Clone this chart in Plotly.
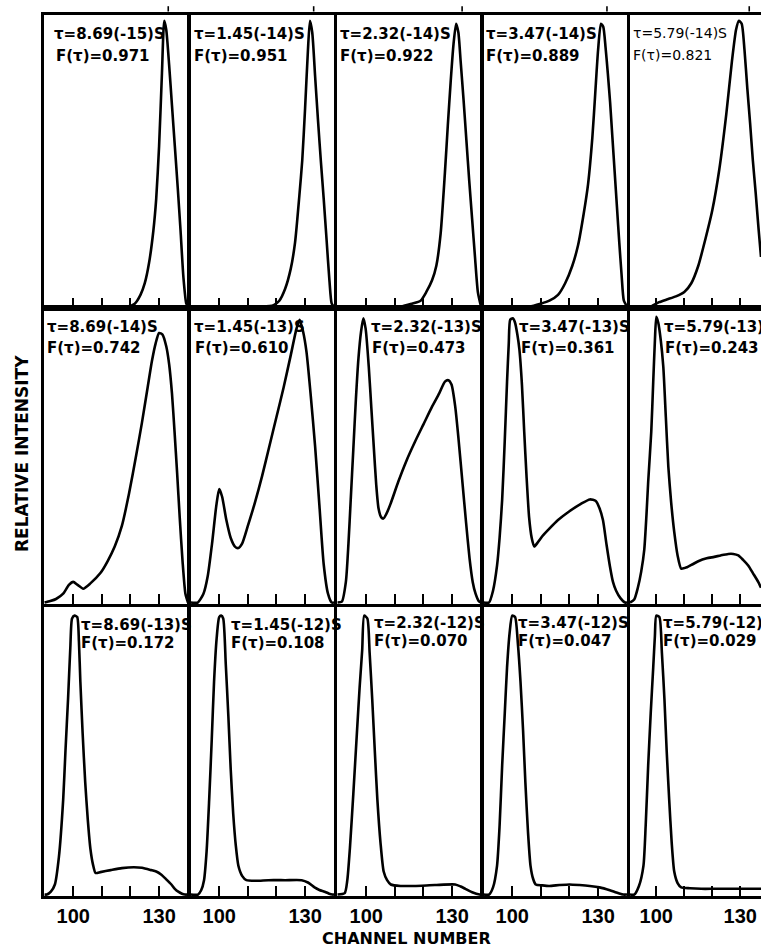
import plotly.graph_objects as go

# ---------------- data (channel number vs relative intensity, %) ----------------
tau_labels = ["τ=8.69(-15)S", "τ=1.45(-14)S", "τ=2.32(-14)S", "τ=3.47(-14)S", "τ=5.79(-14)S",
              "τ=8.69(-14)S", "τ=1.45(-13)S", "τ=2.32(-13)S", "τ=3.47(-13)S", "τ=5.79(-13)S",
              "τ=8.69(-13)S", "τ=1.45(-12)S", "τ=2.32(-12)S", "τ=3.47(-12)S", "τ=5.79(-12)S"]
f_labels = ["F(τ)=0.971", "F(τ)=0.951", "F(τ)=0.922", "F(τ)=0.889", "F(τ)=0.821",
            "F(τ)=0.742", "F(τ)=0.610", "F(τ)=0.473", "F(τ)=0.361", "F(τ)=0.243",
            "F(τ)=0.172", "F(τ)=0.108", "F(τ)=0.070", "F(τ)=0.047", "F(τ)=0.029"]

tick_vals = [100, 110, 120, 130]
tick_text = ["100", "", "", "130"]

# reference-channel marks drawn above the top-row frames
ref_channel = [133.2, 133.0, 133.5, 133.1, 133.2]

# top row
ch_a1 = [90, 119, 121.5, 123.5, 125, 126.5, 128, 129, 130, 131, 131.8, 132.5, 133.5, 134.5, 135.5, 136.5, 137.5, 138.5, 139.5, 140.1]
in_a1 = [0, 0, 1, 4, 8, 15, 26, 37, 55, 80, 98, 95, 83, 69, 55, 41, 26, 10, 1, 0]
ch_a2 = [90, 115, 119, 121, 123, 125, 126.5, 128, 129, 130, 131, 131.7, 132.5, 133.5, 134.5, 135.5, 136.5, 137.5, 138.5, 139.3, 140.1]
in_a2 = [0, 0, 0.5, 2, 6, 13, 22, 38, 50, 68, 88, 98, 94, 79, 64, 50, 37, 23, 9, 1, 0]
ch_a3 = [90, 112, 116, 119, 121, 123, 124.5, 126, 127.5, 128.5, 129.5, 130.5, 131.4, 132.2, 133, 134, 135, 136, 137, 138, 139, 140.1]
in_a3 = [0, 0, 1, 2, 5, 9, 14, 25, 46, 62, 77, 90, 97, 94, 84, 71, 57, 43, 30, 17, 5, 0]
ch_a4 = [90, 106, 110, 113, 116, 118.5, 121, 123, 125, 126.5, 128, 129, 130, 131, 131.8, 132.6, 133.4, 134.2, 135, 135.8, 136.6, 137.4, 138.2, 139, 140.1]
in_a4 = [0, 0, 1, 2, 4, 8, 14, 21, 32, 42, 58, 73, 88, 97, 96, 89, 80, 70, 58, 46, 34, 22, 11, 2, 0]
ch_a5 = [90.6, 98, 101, 104, 107, 110, 112.5, 115, 117.5, 120, 122.5, 125, 127, 128.5, 129.5, 130.5, 131.5, 132.5, 133.5, 134.5, 135.5, 136.5, 137.4]
in_a5 = [0, 0, 1.5, 2.5, 3.5, 5, 8, 14, 23, 33, 47, 66, 84, 95, 98, 97, 88, 75, 63, 50, 39, 27, 17]

# middle row
ch_b1 = [90, 92, 94, 96.5, 98.5, 100, 101.5, 103.5, 106, 109.5, 112, 114.5, 117, 119.5, 122, 124, 126, 127.5, 128.8, 130, 131.2, 132.5, 133.5, 134.5, 135.4, 136.3, 137.2, 138.2, 139.2, 140.1]
in_b1 = [0, 0.5, 1.2, 3, 6, 7, 6, 4.7, 6.5, 10, 14, 19, 26, 37, 50, 61, 73, 82, 88, 91.5, 91, 87, 81, 71, 58, 44, 29, 14, 3, 0]
ch_b2 = [90, 92.5, 94.5, 96, 97.5, 99, 100, 101, 102.5, 104, 105.5, 106.7, 108, 110, 112.5, 115, 117.5, 120, 122.5, 125, 127, 128.1, 129.3, 130.5, 132, 133.5, 135, 136.5, 138, 139.3, 140.1]
in_b2 = [0, 0, 3, 9, 20, 33, 38.5, 36, 28, 22, 19, 18.5, 20, 26, 34, 43, 53, 63, 73, 84, 93, 96, 92, 85, 70, 53, 33, 13, 3, 0, 0]
ch_b3 = [90, 91.5, 92.9, 93.8, 94.6, 95.5, 96.4, 97.3, 98.2, 99, 99.8, 100.9, 101.8, 102.7, 103.5, 104.3, 105.2, 106, 107, 108.5, 111.2, 114, 117, 120, 123, 125.5, 127.5, 128.7, 129.8, 131.1, 132.3, 133.6, 134.9, 136.1, 137.2, 138.2, 139.3, 140.1]
in_b3 = [0, 0.3, 7, 20, 35, 52, 69, 83, 92, 96.5, 93, 80, 66, 52, 40, 32, 29, 28.5, 30, 33.5, 41, 48, 54.5, 60.5, 66.5, 71, 75, 75.5, 74, 66.5, 55, 41, 27, 15, 7, 3, 0.5, 0]
ch_b4 = [90, 91.9, 93.3, 94.7, 95.6, 96.5, 97.4, 98.2, 98.8, 99.3, 100.2, 101, 101.8, 102.5, 103.4, 104.2, 105, 105.9, 106.8, 107.7, 109, 110.5, 112.9, 116, 120, 124, 127.1, 129.2, 130.5, 131.7, 132.9, 134.1, 135.2, 136.3, 137.8, 139.4, 140.1]
in_b4 = [0, 0, 4, 12.5, 22, 35, 55, 75, 88, 96, 96.5, 95, 91, 86, 74, 58, 43, 29, 22, 19, 20.5, 22.5, 25, 28, 31, 33.5, 35, 34.5, 32, 28, 20, 12.5, 7, 4, 1.5, 0, 0]
ch_b5 = [90.6, 92.1, 93.4, 94.6, 95.7, 96.5, 97.1, 98.2, 98.9, 99.5, 100, 100.7, 101.6, 102.5, 103.4, 104.3, 105.3, 106.4, 107.6, 108.9, 111, 113, 115, 118, 120.7, 123, 125.7, 127.5, 129.3, 131, 132.9, 134.5, 136.4, 137.4]
in_b5 = [0, 1, 5, 10.5, 18, 30, 41, 58, 75, 89, 97, 95, 89, 80, 63, 46, 34, 24, 16, 11.5, 12, 13, 14, 15, 15.5, 16, 16.5, 16.5, 16, 14.5, 12.5, 10, 7, 5]

# bottom row
ch_c1 = [90, 90.8, 92.2, 93.6, 95, 96.5, 97.3, 98.2, 99, 99.6, 100.5, 101.4, 102, 102.5, 103.3, 104.2, 105.1, 106, 106.9, 107.8, 109.5, 113.1, 117, 121.2, 124, 127.2, 129, 130.7, 132.5, 134.3, 135.5, 136.7, 138, 139, 140.1]
in_c1 = [0, 0, 1, 3.5, 13, 33, 50, 68, 86, 96, 97, 96.5, 88, 74, 56, 39, 26, 16, 10.5, 7.5, 7.8, 8.5, 9.2, 9.5, 9.3, 8.5, 8, 7, 5.3, 3.5, 2, 1, 0.3, 0, 0]
ch_c2 = [90, 92.6, 93.7, 94.7, 95.6, 96.5, 97.4, 98.2, 99.1, 100, 100.7, 101.4, 102.3, 103.2, 104, 104.9, 105.8, 106.7, 108, 109.5, 113, 117.2, 123, 128.8, 131, 133.3, 135, 136.8, 138.2, 139.5, 140.1]
in_c2 = [0, 0, 1.5, 5, 15, 33, 54, 74, 89, 96.5, 97, 96, 80, 62, 44, 28, 17, 10, 6.5, 5, 4.8, 5, 5, 5, 4.2, 2.5, 1.6, 1, 0.4, 0, 0]
ch_c3 = [90, 92.5, 93.4, 94.3, 95.5, 96.8, 97.7, 98.6, 99.3, 100.4, 101.2, 102.1, 103, 103.9, 105, 106.1, 107.3, 108.6, 112, 116.8, 124, 131.1, 133, 134.6, 137, 139.6, 140.1]
in_c3 = [0, 0.5, 5, 16, 35, 57, 72, 85, 97, 96, 84, 68, 50, 33, 18, 8, 5, 3.5, 3, 3, 3.3, 3.5, 2.8, 2, 0.8, 0, 0]
ch_c4 = [90, 91.9, 93.3, 94.7, 95.6, 96.5, 97.4, 98.2, 99.1, 100, 101, 102, 102.9, 103.8, 104.6, 105.5, 106.4, 107.3, 108.2, 110.5, 112.9, 116.5, 120, 123.5, 127.1, 130.5, 134.1, 136.4, 138.7, 140.1]
in_c4 = [0, 0, 2.5, 10, 24, 45, 63, 79, 91, 97, 96.5, 87, 74, 57, 39, 22, 10, 5.5, 3.5, 3.2, 3, 3.3, 3.5, 3.3, 3, 2.5, 1.5, 0.7, 0, 0]
ch_c5 = [90.6, 92.1, 93.8, 95.4, 96.2, 97.1, 98, 98.9, 99.5, 100, 101.1, 102, 102.9, 103.7, 104.6, 105.5, 106.4, 107.6, 108.9, 112, 116, 120.7, 126, 131, 134, 137.4]
in_c5 = [0, 0, 3, 10, 24, 45, 63, 79, 90, 97, 96.5, 84, 68, 50, 33, 18, 8, 4, 2.5, 2.2, 2, 2, 2, 2, 2, 2]

channels = [ch_a1, ch_a2, ch_a3, ch_a4, ch_a5, ch_b1, ch_b2, ch_b3, ch_b4, ch_b5, ch_c1, ch_c2, ch_c3, ch_c4, ch_c5]
intensities = [in_a1, in_a2, in_a3, in_a4, in_a5, in_b1, in_b2, in_b3, in_b4, in_b5, in_c1, in_c2, in_c3, in_c4, in_c5]

# ---------------- layout geometry (pixels) ----------------
W, H = 761, 949
col_px = [(44, 188), (190, 334), (337, 481), (483, 627), (630, 761)]
row_px = [(15, 308), (308, 604), (607, 896)]
x_ranges = [[89.8, 140.1]] * 4 + [[90.6, 137.4]]

# label positions (left x, top y) in pixels for tau line and F line
tau_pos = [(53, 24), (193, 24), (339, 24), (485, 24), (632, 24),
           (46, 317), (193, 317), (370, 317), (518, 317), (663, 317),
           (80, 615), (230, 615), (373, 613), (517, 613), (662, 613)]
f_pos = [(55, 46), (193, 46), (339, 46), (485, 46), (632, 46),
         (46, 338), (194, 338), (371, 338), (520, 338), (664, 338),
         (80, 633), (230, 633), (373, 631), (517, 631), (662, 631)]

FONT = "DejaVu Sans"
fig = go.Figure()
layout = dict(width=W, height=H, margin=dict(l=0, r=0, t=0, b=0),
              paper_bgcolor="white", plot_bgcolor="white", showlegend=False)
annotations = []
shapes = []

for i in range(15):
    r, c = divmod(i, 5)
    n = i + 1
    xa = "x" if n == 1 else f"x{n}"
    ya = "y" if n == 1 else f"y{n}"
    fig.add_trace(go.Scatter(x=channels[i], y=intensities[i], mode="lines",
                             line=dict(color="black", width=2.6, shape="spline", smoothing=0.6),
                             xaxis=xa, yaxis=ya, hoverinfo="skip"))
    if r == 0:
        shapes.append(dict(type="line", xref=xa, yref=f"{ya} domain",
                           x0=ref_channel[c], x1=ref_channel[c], y0=1.012, y1=1.03,
                           line=dict(color="black", width=1.6)))
    x0, x1 = col_px[c]
    y0, y1 = row_px[r]
    layout["xaxis" if n == 1 else f"xaxis{n}"] = dict(
        domain=[x0 / W, x1 / W], range=x_ranges[c], anchor=ya,
        showline=True, mirror=True, linecolor="black", linewidth=2.6,
        ticks="inside", ticklen=10, tickwidth=2, tickcolor="black",
        tickvals=tick_vals, ticktext=tick_text, showticklabels=(r == 2),
        tickfont=dict(family="Liberation Sans", size=20, color="black", weight="bold"),
        showgrid=False, zeroline=False, fixedrange=True)
    layout["yaxis" if n == 1 else f"yaxis{n}"] = dict(
        domain=[1 - y1 / H, 1 - y0 / H], range=[-0.5, 100], anchor=xa,
        showline=True, mirror=(c < 4), linecolor="black", linewidth=2.6,
        ticks="", showticklabels=False, showgrid=False, zeroline=False, fixedrange=True)
    small = (i == 4)
    fnt = dict(family=FONT, size=14 if small else 15, color="black", weight="normal" if small else "bold")
    for txt, (px, py) in ((tau_labels[i], tau_pos[i]), (f_labels[i], f_pos[i])):
        annotations.append(dict(text=txt, x=px / W, y=1 - py / H, xref="paper", yref="paper",
                                xanchor="left", yanchor="top", showarrow=False, font=fnt,
                                borderpad=0))

annotations.append(dict(text="RELATIVE INTENSITY", x=22 / W, y=1 - 454 / H, xref="paper", yref="paper",
                        textangle=-90, showarrow=False, xanchor="center", yanchor="middle",
                        font=dict(family=FONT, size=17, color="black", weight="bold")))
annotations.append(dict(text="CHANNEL NUMBER", x=406 / W, y=1 - 938 / H, xref="paper", yref="paper",
                        showarrow=False, xanchor="center", yanchor="middle",
                        font=dict(family=FONT, size=16, color="black", weight="bold")))
layout["annotations"] = annotations
layout["shapes"] = shapes
fig.update_layout(**layout)
fig.write_html("out.html", config={"displayModeBar": False},
               post_script="document.body.style.margin='0';document.body.style.overflow='hidden';")
